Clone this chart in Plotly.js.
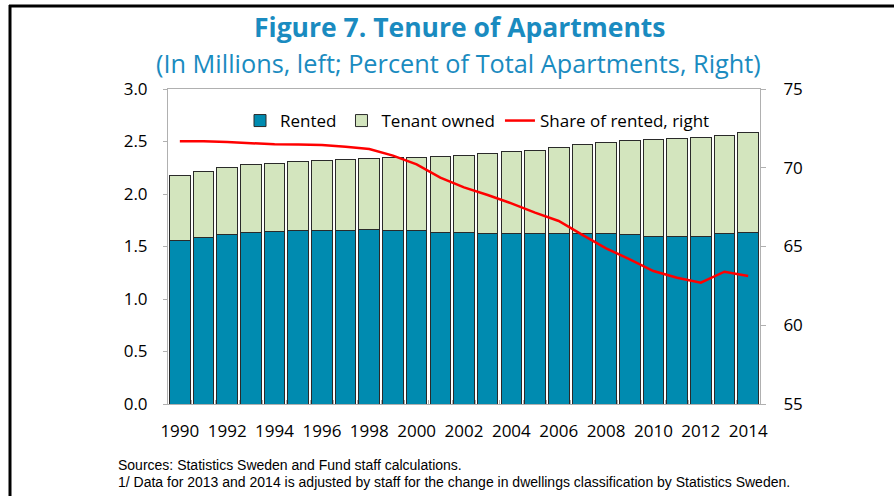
<!DOCTYPE html>
<html>
<head>
<meta charset="utf-8">
<script src="https://cdn.plot.ly/plotly-3.0.1.min.js"></script>
<style>
html,body{margin:0;padding:0;background:#fff;}
#chart{width:894px;height:496px;}
</style>
</head>
<body>
<div id="chart"></div>
<script>
const years = ['1990','1991','1992','1993','1994','1995','1996','1997','1998','1999','2000','2001','2002','2003','2004','2005','2006','2007','2008','2009','2010','2011','2012','2013','2014'];
const rented = [1.559,1.587,1.616,1.629,1.644,1.648,1.654,1.654,1.663,1.654,1.648,1.635,1.633,1.627,1.625,1.625,1.625,1.625,1.622,1.616,1.600,1.597,1.597,1.622,1.635];
const totalApartments = [2.174,2.216,2.251,2.279,2.292,2.308,2.317,2.330,2.337,2.343,2.346,2.356,2.368,2.388,2.406,2.419,2.441,2.470,2.492,2.505,2.518,2.524,2.537,2.556,2.587];
const tenantOwned = totalApartments.map((t,i)=>+(t-rented[i]).toFixed(3));
const shareRented = [71.68,71.68,71.63,71.55,71.49,71.47,71.44,71.34,71.19,70.77,70.22,69.37,68.75,68.27,67.74,67.15,66.62,65.74,64.88,64.19,63.44,63.02,62.70,63.40,63.13];
const xTickText = years.map(y => (+y % 2 === 0) ? y : '');

const FONT = 'Open Sans, Noto Sans, sans-serif';
const TITLE_COLOR = '#1A8BC0';

const traces = [
  {type:'bar', name:'Rented', x:years, y:rented,
   marker:{color:'#008BB0', line:{color:'#2a2a2a', width:1}}},
  {type:'bar', name:'Tenant owned', x:years, y:tenantOwned,
   marker:{color:'#D3E5BE', line:{color:'#2a2a2a', width:1}}},
  {type:'scatter', mode:'lines', name:'Share of rented, right', x:years, y:shareRented,
   yaxis:'y2', line:{color:'#FF0000', width:2.5}}
];

const L=168, R=760, T=89, B=404, W=894, H=496;
const px = x => (x-L)/(R-L);
const py = y => (B-y)/(B-T);

const layout = {
  width:W, height:H,
  margin:{l:L, r:W-R, t:T, b:H-B, pad:0},
  paper_bgcolor:'#fff', plot_bgcolor:'#fff',
  barmode:'stack', bargap:0.13,
  showlegend:true,
  legend:{orientation:'h', x:px(240), y:py(121), xanchor:'left', yanchor:'middle',
    font:{family:FONT, size:17, color:'#000'}, bgcolor:'rgba(0,0,0,0)',
    traceorder:'normal', itemwidth:30},
  font:{family:FONT, size:17, color:'#000'},
  xaxis:{type:'category', tickvals:years, ticktext:xTickText, tickangle:0,
    showline:true, linecolor:'#b0b0b0', linewidth:1, mirror:true,
    ticks:'inside', tickson:'boundaries', ticklen:4, tickcolor:'#b0b0b0',
    showgrid:false, zeroline:false, ticklabelstandoff:12,
    tickfont:{family:FONT, size:17, color:'#000'}},
  yaxis:{range:[0,3], dtick:0.5, tickformat:'.1f', showline:true, linecolor:'#b0b0b0',
    ticks:'outside', ticklen:4, tickcolor:'#b0b0b0', showgrid:false, zeroline:false,
    ticklabelstandoff:12, tickfont:{family:FONT, size:17, color:'#000'}},
  yaxis2:{range:[55,75], dtick:5, overlaying:'y', side:'right', showline:true,
    linecolor:'#b0b0b0', ticks:'outside', ticklen:5, tickcolor:'#b0b0b0',
    showgrid:false, zeroline:false, ticklabelstandoff:14,
    tickfont:{family:FONT, size:17, color:'#000'}},
  annotations:[
    {text:'<b>Figure 7. Tenure of Apartments</b>', xref:'paper', yref:'paper',
     x:px(460), y:py(27), xanchor:'center', yanchor:'middle', showarrow:false,
     font:{family:FONT, size:26.5, color:TITLE_COLOR}},
    {text:'(In Millions, left; Percent of Total Apartments, Right)', xref:'paper', yref:'paper',
     x:px(458), y:py(63), xanchor:'center', yanchor:'middle', showarrow:false,
     font:{family:FONT, size:25.3, color:TITLE_COLOR}},
    {text:'Sources: Statistics Sweden and Fund staff calculations.', xref:'paper', yref:'paper',
     x:px(116), y:py(465), xanchor:'left', yanchor:'middle', showarrow:false,
     font:{family:'Liberation Sans Narrow, Liberation Sans, sans-serif', size:14, color:'#000'}},
    {text:'1/ Data for 2013 and 2014 is adjusted by staff for the change in dwellings classification by Statistics Sweden.', xref:'paper', yref:'paper',
     x:px(116), y:py(482), xanchor:'left', yanchor:'middle', showarrow:false,
     font:{family:'Liberation Sans Narrow, Liberation Sans, sans-serif', size:14, color:'#000'}}
  ],
  shapes:[
    {type:'line', xref:'paper', yref:'paper', x0:px(9), x1:px(894), y0:py(6), y1:py(6),
     line:{color:'#000', width:3}},
    {type:'line', xref:'paper', yref:'paper', x0:px(10), x1:px(10), y0:py(5), y1:py(497),
     line:{color:'#000', width:3}}
  ]
};

Plotly.newPlot('chart', traces, layout, {displayModeBar:false, staticPlot:true});
</script>
</body>
</html>
